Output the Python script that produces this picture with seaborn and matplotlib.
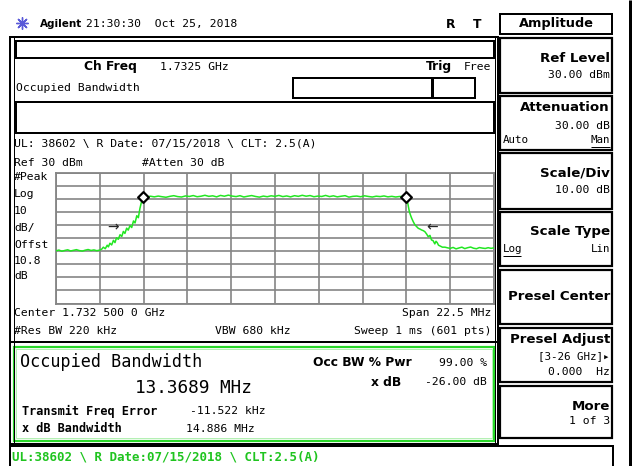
import numpy as np
import matplotlib
matplotlib.use("Agg")
import matplotlib.pyplot as plt
import seaborn as sns
from matplotlib.patches import Rectangle

# sweep settings
SPAN_MHZ = 22.5
REF_DBM = 30
DB_PER_DIV = 10
N_DIV = 10

# trace: offset from centre (MHz) and level (dBm)
trace_freq = [
    -11.25, -11.10, -10.95, -10.80, -10.65, -10.50, -10.35, -10.20, -10.05, -9.90,
    -9.75, -9.60, -9.45, -9.30, -9.15, -9.00,
    -8.90, -8.82, -8.72, -8.62, -8.56, -8.48, -8.39, -8.30, -8.22, -8.14,
    -8.05, -7.96, -7.87, -7.79, -7.71, -7.62, -7.54, -7.45, -7.36, -7.27,
    -7.19, -7.10, -7.02, -6.94, -6.86, -6.77,
    -6.60, -6.40, -6.20, -6.00, -5.80, -5.60, -5.40, -5.20, -5.00, -4.80,
    -4.60, -4.40, -4.20, -4.00, -3.80, -3.60, -3.40, -3.20, -3.00, -2.80,
    -2.60, -2.40, -2.20, -2.00, -1.80, -1.60, -1.40, -1.20, -1.00, -0.80,
    -0.60, -0.40, -0.20, 0.00, 0.20, 0.40, 0.60, 0.80, 1.00, 1.20,
    1.40, 1.60, 1.80, 2.00, 2.20, 2.40, 2.60, 2.80, 3.00, 3.20,
    3.40, 3.60, 3.80, 4.00, 4.20, 4.40, 4.60, 4.80, 5.00, 5.20,
    5.40, 5.60, 5.80, 6.00, 6.20, 6.40, 6.60, 6.71,
    6.82, 6.90, 6.96, 7.02, 7.10, 7.19, 7.27, 7.36, 7.45, 7.53,
    7.62, 7.70, 7.79, 7.87, 7.96, 8.04, 8.12, 8.21, 8.27, 8.33,
    8.40, 8.47, 8.60, 8.73, 8.86,
    9.00, 9.15, 9.30, 9.45, 9.60, 9.75, 9.90, 10.05, 10.20, 10.35,
    10.50, 10.65, 10.80, 10.95, 11.10, 11.25,
]
trace_dbm = [
    -29.8, -29.2, -30.1, -29.5, -29.0, -29.9, -29.4, -28.9, -29.6, -30.0,
    -29.3, -28.8, -29.5, -29.1, -29.7, -29.2,
    -28.5, -27.0, -28.2, -25.5, -26.8, -24.0, -25.3, -21.8, -23.5, -19.8,
    -21.0, -17.5, -18.8, -15.0, -16.5, -12.5, -14.0, -10.5, -12.0, -7.0,
    -8.5, -3.0, -4.5, 2.5, 7.5, 11.5,
    11.2, 11.9, 11.4, 12.0, 11.5, 11.1, 11.8, 12.3, 11.6, 11.3,
    12.1, 11.7, 12.4, 11.5, 11.9, 12.6, 11.8, 12.2, 11.4, 12.5,
    11.9, 12.7, 12.0, 11.6, 12.3, 11.3, 11.9, 12.4, 11.7, 11.2,
    12.0, 11.5, 12.2, 11.8, 12.5, 11.6, 12.1, 11.4, 12.3, 11.8,
    12.6, 11.9, 12.4, 11.5, 12.0, 11.7, 12.5, 11.6, 12.2, 11.4,
    11.9, 12.3, 11.2, 11.8, 12.0, 11.5, 12.2, 11.7, 11.3, 11.9,
    11.6, 12.1, 11.4, 11.8, 11.3, 11.7, 11.5, 11.6,
    6.6, 0.2, -2.5, -4.9, -7.5, -10.0, -11.2, -12.6, -13.2, -13.9,
    -14.4, -15.2, -17.0, -19.0, -18.0, -21.5, -22.0, -24.5, -22.5, -23.5,
    -25.5, -26.0, -27.0, -27.0, -27.5,
    -27.9, -27.2, -28.3, -27.6, -27.0, -28.1, -27.4, -26.9, -27.8, -28.2,
    -27.3, -27.7, -28.0, -27.4, -27.9, -27.5,
]

# x dB bandwidth markers and occupied-bandwidth arrows
marker_freq = [-6.77, 6.71]
marker_dbm = [11.5, 11.6]
arrow_freq = [-8.32, 8.07]
arrow_dbm = [-12.3, -12.1]
arrow_text = ["\u2192", "\u2190"]

W, H = 637, 466
TRACE_GREEN = "#22e622"
TEXT_GREEN = "#1fc41f"
MONO = ["DejaVu Sans Mono", "DejaVu Sans"]
SANS = ["DejaVu Sans"]

sns.set_style("white")
plt.rcParams["font.family"] = MONO

fig = plt.figure(figsize=(W / 100, H / 100), dpi=100)
fig.patch.set_facecolor("white")

# full-screen overlay in pixel coordinates for frames and labels
scr = fig.add_axes([0, 0, 1, 1])
scr.set_xlim(0, W)
scr.set_ylim(H, 0)
scr.axis("off")

PX = 72 / 100  # points per pixel


def box(x0, y0, x1, y1, lw=2, color="black"):
    scr.add_patch(Rectangle((x0, y0), x1 - x0, y1 - y0, fill=False,
                            lw=lw * PX, ec=color))


def line(xs, ys, lw=2, color="black"):
    scr.plot(xs, ys, color=color, lw=lw * PX, solid_capstyle="butt")


def txt(x, y, s, size=8.2, ha="left", bold=False, sans=False, color="black"):
    scr.text(x, y, s, ha=ha, va="center", fontsize=size, color=color,
             family=SANS if sans else MONO,
             weight="bold" if bold else "normal")


# header
scr.scatter([22], [23], marker=(8, 2, 0), s=70, color="#5a5ad8", lw=1)
txt(40, 24, "Agilent", size=7.5, bold=True, sans=True)
txt(86, 24, "21:30:30  Oct 25, 2018")
txt(451, 24, "R", size=8.8, bold=True, sans=True, ha="center")
txt(477, 24, "T", size=8.8, bold=True, sans=True, ha="center")

# main panel frame
box(10, 36.5, 497.5, 443.5, lw=2)
line([13.5, 13.5], [36.5, 443.5], lw=1)
line([495, 495], [36.5, 443.5], lw=1)
box(16, 41, 494, 57.5)
txt(84, 66.5, "Ch Freq", size=8.8, bold=True, sans=True)
txt(160, 66.5, "1.7325 GHz")
txt(426, 66.5, "Trig", size=8.8, bold=True, sans=True)
txt(491, 66.5, "Free", ha="right")
txt(16, 88, "Occupied Bandwidth")
box(293, 78, 475, 98)
line([431.5, 431.5], [78, 98], lw=3)
box(16, 102, 494, 133)
txt(14, 143.5, "UL: 38602 \\ R Date: 07/15/2018 \\ CLT: 2.5(A)")
txt(14, 163, "Ref 30 dBm")
txt(142, 163, "#Atten 30 dB")
for yy, s in zip([177.5, 194, 211, 228, 245.5, 260.5, 276],
                 ["#Peak", "Log", "10", "dB/", "Offst", "10.8", "dB"]):
    txt(14, yy, s)
txt(14, 313.5, "Center 1.732 500 0 GHz")
txt(491, 313.5, "Span 22.5 MHz", ha="right")
txt(14, 331, "#Res BW 220 kHz")
txt(215, 331, "VBW 680 kHz")
txt(491, 331, "Sweep 1 ms (601 pts)", ha="right")
line([10, 497.5], [341.5, 341.5], lw=2)

# measurement result box
box(13.5, 346.5, 494, 440.5, lw=2.2, color="#2ad82a")
box(16, 349, 491.5, 438, lw=1, color="#b4f0b4")
txt(20, 362, "Occupied Bandwidth", size=12.1)
txt(135, 388, "13.3689 MHz", size=12.8)
txt(22, 411.5, "Transmit Freq Error", size=8.6, bold=True)
txt(190, 411.5, "-11.522 kHz")
txt(22, 428.5, "x dB Bandwidth", size=8.6, bold=True)
txt(186, 428.5, "14.886 MHz")
txt(313, 363, "Occ BW % Pwr", size=8.8, bold=True, sans=True)
txt(487, 363, "99.00 %", ha="right")
txt(401, 382, "x dB", size=8.8, bold=True, sans=True, ha="right")
txt(487, 382, "-26.00 dB", ha="right")

# status line
box(10, 446, 613, 467, lw=2)
txt(12, 456.5, "UL:38602 \\ R Date:07/15/2018 \\ CLT:2.5(A)", size=9.0,
    bold=True, color=TEXT_GREEN)

# softkey menu
box(500, 14, 612, 34)
txt(556, 24, "Amplitude", size=9.3, bold=True, sans=True, ha="center")
for y0, y1 in [(38, 93), (96, 150), (153, 209), (212, 266),
               (270, 324), (328, 382), (386, 438)]:
    box(500, y0, 612, y1, lw=2.2)
KX = 610
txt(KX, 58, "Ref Level", size=9.6, bold=True, sans=True, ha="right")
txt(KX, 75, "30.00 dBm", ha="right")
txt(KX, 107.5, "Attenuation", size=9.6, bold=True, sans=True, ha="right")
txt(KX, 126, "30.00 dB", ha="right")
txt(503, 140, "Auto", size=7.8)
txt(KX, 140, "Man", size=7.8, ha="right")
line([591, 610], [146.5, 146.5], lw=1)
txt(KX, 173.5, "Scale/Div", size=9.6, bold=True, sans=True, ha="right")
txt(KX, 190, "10.00 dB", ha="right")
txt(KX, 231, "Scale Type", size=9.6, bold=True, sans=True, ha="right")
txt(503, 249, "Log", size=7.8)
line([503, 521], [255.5, 255.5], lw=1)
txt(KX, 249, "Lin", size=7.8, ha="right")
txt(KX, 297, "Presel Center", size=9.6, bold=True, sans=True, ha="right")
txt(KX, 340, "Presel Adjust", size=9.6, bold=True, sans=True, ha="right")
txt(KX, 356, "[3-26 GHz]\u25b8", size=7.8, ha="right")
txt(KX, 372, "0.000  Hz", ha="right")
txt(KX, 407, "More", size=9.6, bold=True, sans=True, ha="right")
txt(KX, 421, "1 of 3", ha="right")
line([630, 630], [0, H], lw=3)

# spectrum graticule
gx0, gy0, gx1, gy1 = 56, 172.5, 494, 303.5
ax = fig.add_axes([gx0 / W, 1 - gy1 / H, (gx1 - gx0) / W, (gy1 - gy0) / H])
ax.set_facecolor("white")
half = SPAN_MHZ / 2
bottom = REF_DBM - DB_PER_DIV * N_DIV
sns.lineplot(x=trace_freq, y=trace_dbm, ax=ax, color=TRACE_GREEN, lw=1.1,
             estimator=None, sort=False, zorder=3)
sns.scatterplot(x=marker_freq, y=marker_dbm, ax=ax, marker="D", s=30,
                facecolor="white", edgecolor="black", linewidth=1.6, zorder=5)
for f, d, s in zip(arrow_freq, arrow_dbm, arrow_text):
    ax.text(f, d, s, ha="center", va="center", fontsize=10, family=SANS)
ax.set_xlim(-half, half)
ax.set_ylim(bottom, REF_DBM)
ax.set_xticks(np.linspace(-half, half, N_DIV + 1))
ax.set_yticks(np.arange(bottom, REF_DBM + 1, DB_PER_DIV))
ax.grid(True, color="#858585", lw=1.2)
ax.tick_params(length=0, labelbottom=False, labelleft=False)
for sp in ax.spines.values():
    sp.set_color("#858585")
    sp.set_linewidth(1.3)
ax.set_xlabel("")
ax.set_ylabel("")

fig.savefig("out.png", dpi=100)
